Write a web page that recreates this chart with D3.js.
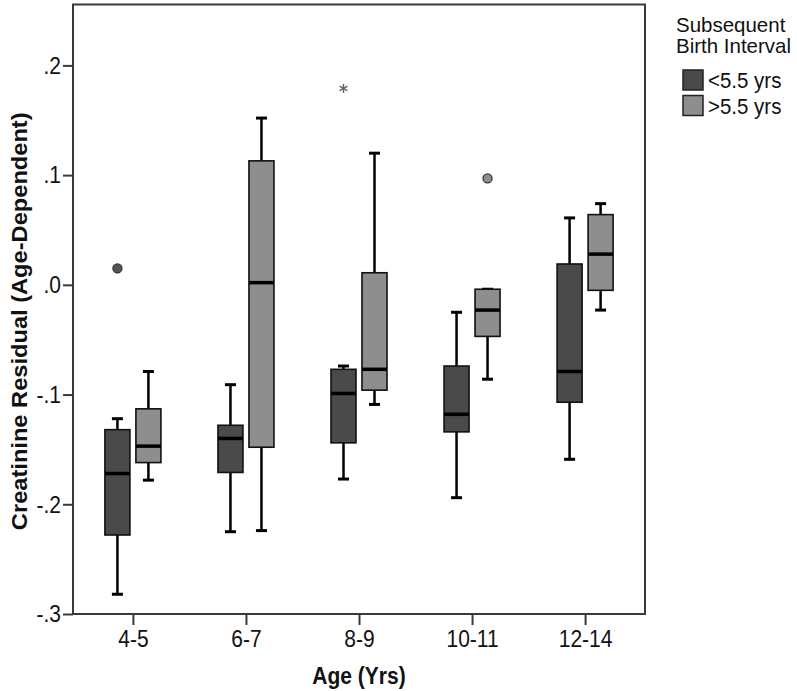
<!DOCTYPE html>
<html>
<head>
<meta charset="utf-8">
<script src="https://cdn.jsdelivr.net/npm/d3@7"></script>
<style>
  html, body { margin: 0; padding: 0; background: #fff; }
  svg { display: block; }
  text { font-family: "Liberation Sans", Arial, sans-serif; fill: #111; }
</style>
</head>
<body>
<svg id="chart" width="797" height="691"></svg>
<script>
// ---- Data ----
const categories = ["4-5", "6-7", "8-9", "10-11", "12-14"];
const seriesNames = ["<5.5 yrs", ">5.5 yrs"];
const seriesColors = ["#4a4a4a", "#8e8e8e"];

// <5.5 yrs
const shortLow    = [-0.282, -0.225, -0.177, -0.194, -0.159];
const shortQ1     = [-0.228, -0.171, -0.144, -0.134, -0.107];
const shortMedian = [-0.172, -0.140, -0.099, -0.118, -0.079];
const shortQ3     = [-0.132, -0.128, -0.077, -0.074,  0.019];
const shortHigh   = [-0.122, -0.091, -0.074, -0.025,  0.061];

// >5.5 yrs
const longLow    = [-0.178, -0.224, -0.109, -0.086, -0.023];
const longQ1     = [-0.162, -0.148, -0.096, -0.047, -0.005];
const longMedian = [-0.147,  0.002, -0.077, -0.023,  0.028];
const longQ3     = [-0.113,  0.113,  0.011, -0.004,  0.064];
const longHigh   = [-0.079,  0.152,  0.120, -0.004,  0.074];

// outliers (circle) and extremes (asterisk)
const outlierCats   = ["4-5", "10-11"];
const outlierSeries = [0, 1];
const outlierValues = [0.015, 0.097];
const extremeCats   = ["8-9"];
const extremeSeries = [0];
const extremeValues = [0.179];

const yTicks = [0.2, 0.1, 0.0, -0.1, -0.2, -0.3];
const yTickLabels = [".2", ".1", ".0", "-.1", "-.2", "-.3"];

const yTitle = "Creatinine Residual (Age-Dependent)";
const xTitle = "Age (Yrs)";
const legendTitle = ["Subsequent", "Birth Interval"];

// ---- Build series table ----
const series = [
  {low: shortLow, q1: shortQ1, med: shortMedian, q3: shortQ3, high: shortHigh},
  {low: longLow, q1: longQ1, med: longMedian, q3: longQ3, high: longHigh}
];
const boxes = [];
series.forEach((s, si) => {
  categories.forEach((c, ci) => {
    boxes.push({cat: c, si, low: s.low[ci], q1: s.q1[ci], med: s.med[ci], q3: s.q3[ci], high: s.high[ci]});
  });
});

// ---- Layout ----
const plot = {left: 73, right: 645, top: 4.5, bottom: 614};
const stretch = 1.1; // reference text is slightly tall/narrow
const svg = d3.select("#chart");

const x = d3.scalePoint().domain(categories).range([plot.left, plot.right]).padding(0.53);
const y = d3.scaleLinear().domain([-0.3, 0.2555]).range([plot.bottom, plot.top]);

const boxW = 25;
const offset = d3.scaleOrdinal().domain([0, 1]).range([-15.5, 15.5]);
const cx = (cat, si) => x(cat) + offset(si);
const capW = 11;

// helper: place text at (tx,ty) with vertical stretch
function stretchedText(sel, tx, ty, rot, k) {
  const s = k || stretch;
  const r = rot ? ` rotate(${rot}) scale(${s},1)` : ` scale(1,${s})`;
  return sel.attr("transform", `translate(${tx},${ty})${r}`);
}

// frame
svg.append("rect")
  .attr("x", plot.left).attr("y", plot.top)
  .attr("width", plot.right - plot.left).attr("height", plot.bottom - plot.top)
  .attr("fill", "none").attr("stroke", "#3a3a3a").attr("stroke-width", 2);

// Y axis
const yAxis = d3.axisLeft(y).tickValues(yTicks)
  .tickFormat((d, i) => yTickLabels[i]).tickSize(10).tickPadding(2);
const gy = svg.append("g").attr("transform", `translate(${plot.left},0)`).call(yAxis);
gy.select(".domain").remove();
gy.selectAll(".tick line").attr("stroke", "#3a3a3a").attr("stroke-width", 2);
gy.selectAll(".tick text").attr("font-size", 21).attr("fill", "#111")
  .attr("font-family", "Liberation Sans, Arial, sans-serif")
  .attr("transform", `scale(1,${stretch})`).attr("y", 0).attr("dy", "0.34em");

// X axis
const xAxis = d3.axisBottom(x).tickSize(11).tickPadding(4);
const gx = svg.append("g").attr("transform", `translate(0,${plot.bottom})`).call(xAxis);
gx.select(".domain").remove();
gx.selectAll(".tick line").attr("stroke", "#3a3a3a").attr("stroke-width", 2);
gx.selectAll(".tick text").attr("font-size", 21).attr("fill", "#111")
  .attr("font-family", "Liberation Sans, Arial, sans-serif")
  .attr("y", 0).attr("dy", 0)
  .attr("transform", `translate(0,33) scale(1,${stretch})`);

// Axis titles
stretchedText(svg.append("text"), (plot.left + plot.right) / 2, 684)
  .attr("text-anchor", "middle").attr("font-size", 21).attr("font-weight", "bold")
  .text(xTitle);
stretchedText(svg.append("text"), 27, (plot.top + plot.bottom) / 2 + 12, -90)
  .attr("text-anchor", "middle").attr("font-size", 21.5).attr("font-weight", "bold")
  .text(yTitle);

// Boxes
const g = svg.append("g");
const bx = g.selectAll("g.box").data(boxes).join("g").attr("class", "box");

// whiskers
bx.append("line")
  .attr("x1", d => cx(d.cat, d.si)).attr("x2", d => cx(d.cat, d.si))
  .attr("y1", d => y(d.high)).attr("y2", d => y(d.q3))
  .attr("stroke", "#000").attr("stroke-width", 2.5);
bx.append("line")
  .attr("x1", d => cx(d.cat, d.si)).attr("x2", d => cx(d.cat, d.si))
  .attr("y1", d => y(d.q1)).attr("y2", d => y(d.low))
  .attr("stroke", "#000").attr("stroke-width", 2.5);
// caps
bx.append("line")
  .attr("x1", d => cx(d.cat, d.si) - capW / 2).attr("x2", d => cx(d.cat, d.si) + capW / 2)
  .attr("y1", d => y(d.high)).attr("y2", d => y(d.high))
  .attr("stroke", "#000").attr("stroke-width", 3);
bx.append("line")
  .attr("x1", d => cx(d.cat, d.si) - capW / 2).attr("x2", d => cx(d.cat, d.si) + capW / 2)
  .attr("y1", d => y(d.low)).attr("y2", d => y(d.low))
  .attr("stroke", "#000").attr("stroke-width", 3);
// box
bx.append("rect")
  .attr("x", d => cx(d.cat, d.si) - boxW / 2).attr("width", boxW)
  .attr("y", d => y(d.q3)).attr("height", d => y(d.q1) - y(d.q3))
  .attr("fill", d => seriesColors[d.si]).attr("stroke", "#111").attr("stroke-width", 1.6);
// median
bx.append("line")
  .attr("x1", d => cx(d.cat, d.si) - boxW / 2).attr("x2", d => cx(d.cat, d.si) + boxW / 2)
  .attr("y1", d => y(d.med)).attr("y2", d => y(d.med))
  .attr("stroke", "#000").attr("stroke-width", 3.5);

// outliers
g.selectAll("circle.outlier").data(outlierValues.map((v, i) => ({v, cat: outlierCats[i], si: outlierSeries[i]})))
  .join("circle").attr("class", "outlier")
  .attr("cx", d => cx(d.cat, d.si)).attr("cy", d => y(d.v)).attr("r", 4.5)
  .attr("fill", d => d.si === 0 ? "#555" : "#8e8e8e").attr("stroke", "#333").attr("stroke-width", 1.3);

// extremes (asterisk)
const ext = g.selectAll("g.extreme").data(extremeValues.map((v, i) => ({v, cat: extremeCats[i], si: extremeSeries[i]})))
  .join("g").attr("class", "extreme")
  .attr("transform", d => `translate(${cx(d.cat, d.si)},${y(d.v)})`);
[0, 60, 120].forEach(a => {
  ext.append("line").attr("x1", 0).attr("y1", -4.5).attr("x2", 0).attr("y2", 4.5)
    .attr("transform", `rotate(${a})`).attr("stroke", "#666").attr("stroke-width", 1.5);
});

// Legend
const lg = svg.append("g");
lg.selectAll("text.lt").data(legendTitle).join("text").attr("class", "lt")
  .each(function(d, i) { stretchedText(d3.select(this), 676, 32 + i * 21, 0, 1.02); })
  .attr("font-size", 20.5).text(d => d);
const items = lg.selectAll("g.item").data(seriesNames).join("g").attr("class", "item")
  .attr("transform", (d, i) => `translate(683,${70 + i * 25.5})`);
items.append("rect").attr("width", 20).attr("height", 20)
  .attr("fill", (d, i) => seriesColors[i]).attr("stroke", "#222").attr("stroke-width", 1.5);
items.append("text").attr("transform", `translate(25,18) scale(1,1.05)`)
  .attr("font-size", 20.5).text(d => d);
</script>
</body>
</html>
